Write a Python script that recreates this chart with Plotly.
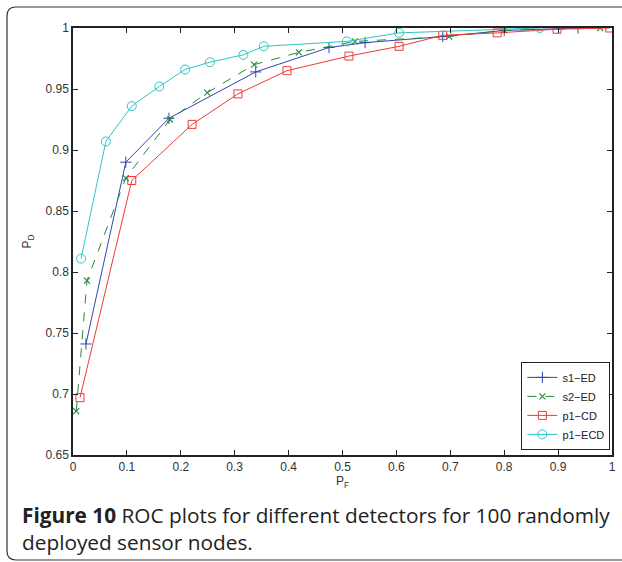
import plotly.graph_objects as go

# ROC curves
s1_pf = [0.024, 0.098, 0.178, 0.339, 0.475, 0.542, 0.686, 0.800, 0.937]
s1_pd = [0.741, 0.890, 0.926, 0.964, 0.984, 0.988, 0.993, 0.998, 1.000]

s2_pf = [0.006, 0.026, 0.098, 0.180, 0.249, 0.336, 0.419, 0.523, 0.698, 0.800, 0.978]
s2_pd = [0.686, 0.793, 0.877, 0.925, 0.947, 0.970, 0.980, 0.989, 0.993, 0.998, 1.000]

p1cd_pf = [0.013, 0.109, 0.221, 0.306, 0.397, 0.512, 0.605, 0.686, 0.787, 0.898, 0.996]
p1cd_pd = [0.697, 0.875, 0.921, 0.946, 0.965, 0.977, 0.985, 0.994, 0.996, 0.999, 1.000]

p1ecd_pf = [0.015, 0.061, 0.109, 0.160, 0.208, 0.254, 0.316, 0.354, 0.508, 0.605, 0.866]
p1ecd_pd = [0.811, 0.907, 0.936, 0.952, 0.966, 0.972, 0.978, 0.985, 0.989, 0.996, 1.000]

x_ticks = [0, 0.1, 0.2, 0.3, 0.4, 0.5, 0.6, 0.7, 0.8, 0.9, 1]
x_ticktext = ["0", "0.1", "0.2", "0.3", "0.4", "0.5", "0.6", "0.7", "0.8", "0.9", "1"]
y_ticks = [0.65, 0.7, 0.75, 0.8, 0.85, 0.9, 0.95, 1]
y_ticktext = ["0.65", "0.7", "0.75", "0.8", "0.85", "0.9", "0.95", "1"]

fig = go.Figure()

fig.add_trace(go.Scatter(x=s1_pf, y=s1_pd, name="s1\u2212ED", mode="lines+markers",
                         line=dict(color="#3346ad", width=1),
                         marker=dict(symbol="cross-thin-open", size=8,
                                     line=dict(color="#3346ad", width=1))))
fig.add_trace(go.Scatter(x=s2_pf, y=s2_pd, name="s2\u2212ED", mode="lines+markers",
                         line=dict(color="#23883a", width=1, dash="dash"),
                         marker=dict(symbol="x-thin-open", size=6,
                                     line=dict(color="#23883a", width=1.1))))
fig.add_trace(go.Scatter(x=p1cd_pf, y=p1cd_pd, name="p1\u2212CD", mode="lines+markers",
                         line=dict(color="#f03a3a", width=1),
                         marker=dict(symbol="square-open", size=8,
                                     line=dict(color="#f03a3a", width=1))))
fig.add_trace(go.Scatter(x=p1ecd_pf, y=p1ecd_pd, name="p1\u2212ECD", mode="lines+markers",
                         line=dict(color="#2ec4c4", width=1),
                         marker=dict(symbol="circle-open", size=9,
                                     line=dict(color="#2ec4c4", width=1))))

axis_common = dict(showgrid=False, zeroline=False, showline=True, linecolor="#222",
                   linewidth=1.5, mirror="allticks", ticks="inside", ticklen=5,
                   tickcolor="#222", automargin=False,
                   tickfont=dict(family="Liberation Sans", size=12, color="#333"))

fig.update_xaxes(range=[0, 1], tickvals=x_ticks, ticktext=x_ticktext,
                 title=dict(text="P<sub>F</sub>", standoff=2,
                            font=dict(family="Liberation Sans", size=12, color="#333")),
                 **axis_common)
fig.update_yaxes(range=[0.65, 1], tickvals=y_ticks, ticktext=y_ticktext,
                 title=dict(text="P<sub>D</sub>", standoff=11,
                            font=dict(family="Liberation Sans", size=12, color="#333")),
                 **axis_common)

# outer rounded frame around figure and caption (paper coords)
def px(x):
    return (x - 73) / 539

def py(y):
    return (455 - y) / 427

r = 9
frame = (f"M {px(640)},{py(7)} L {px(7 + r)},{py(7)} "
         f"Q {px(7)},{py(7)} {px(7)},{py(7 + r)} "
         f"L {px(7)},{py(560 - r)} Q {px(7)},{py(560)} {px(7 + r)},{py(560)} "
         f"L {px(640)},{py(560)}")
fig.add_shape(type="path", path=frame, xref="paper", yref="paper",
              line=dict(color="#333", width=1.2), layer="below")

cap_font = dict(family="Open Sans", size=20.8, color="#222")
fig.add_annotation(text="<b>Figure 10</b> ROC plots for different detectors for 100 randomly"
                        "<br>deployed sensor nodes.",
                   xref="paper", yref="paper", x=px(20), y=py(528), xanchor="left",
                   yanchor="middle", align="left", showarrow=False, font=cap_font)

fig.update_layout(
    width=622, height=562,
    margin=dict(l=73, r=10, t=28, b=107),
    paper_bgcolor="white", plot_bgcolor="white",
    showlegend=True,
    legend=dict(x=0.997, y=0.012, xanchor="right", yanchor="bottom",
                bgcolor="white", bordercolor="#222", borderwidth=1,
                font=dict(family="Liberation Sans", size=11, color="#222"),
                tracegroupgap=0, itemwidth=30),
)

fig.write_html("out.html", config={"displayModeBar": False},
               post_script="document.body.style.margin='0';")
